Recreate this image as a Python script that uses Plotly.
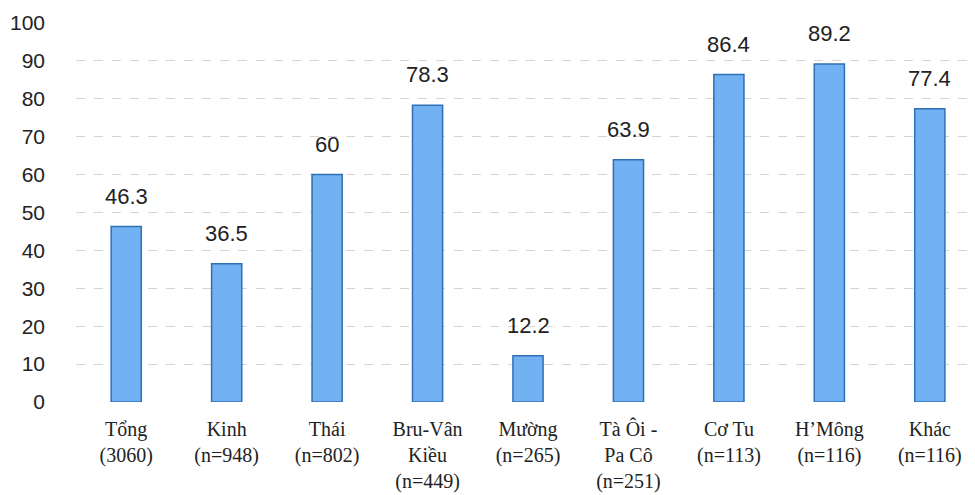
import plotly.graph_objects as go

categories = ["Tổng<br>(3060)", "Kinh<br>(n=948)", "Thái<br>(n=802)", "Bru-Vân<br>Kiều<br>(n=449)",
              "Mường<br>(n=265)", "Tà Ôi -<br>Pa Cô<br>(n=251)", "Cơ Tu<br>(n=113)",
              "H’Mông<br>(n=116)", "Khác<br>(n=116)"]
values = [46.3, 36.5, 60, 78.3, 12.2, 63.9, 86.4, 89.2, 77.4]
value_labels = ["46.3", "36.5", "60", "78.3", "12.2", "63.9", "86.4", "89.2", "77.4"]
y_ticks = [0, 10, 20, 30, 40, 50, 60, 70, 80, 90, 100]

fig = go.Figure()
fig.add_trace(go.Bar(
    x=categories, y=values, width=0.3,
    marker=dict(color="#72B2F2", line=dict(color="#2F6FB5", width=1.5)),
))
for c, v, t in zip(categories, values, value_labels):
    fig.add_annotation(x=c, y=v, text=t, showarrow=False, yanchor="bottom", yshift=16,
                       font=dict(family="Liberation Sans, Arial", size=22, color="#222"))

fig.update_layout(
    width=967, height=487, margin=dict(l=68, r=0, t=15, b=93, autoexpand=False),
    paper_bgcolor="white", plot_bgcolor="white", showlegend=False,
    xaxis=dict(type="category", range=[-0.5, 8.45], showline=False, ticks="",
               automargin=False, ticklabelstandoff=13,
               tickfont=dict(family="Liberation Serif, Times New Roman", size=20, color="#222"),
               tickangle=0),
    yaxis=dict(range=[0, 100], tickvals=y_ticks, showline=False, zeroline=False,
               automargin=False,
               showgrid=True, gridcolor="#D4D4D4", gridwidth=1, griddash="dash",
               ticklabelstandoff=30,
               tickfont=dict(family="Liberation Sans, Arial", size=21, color="#222")),
)
fig.write_html("out.html")
